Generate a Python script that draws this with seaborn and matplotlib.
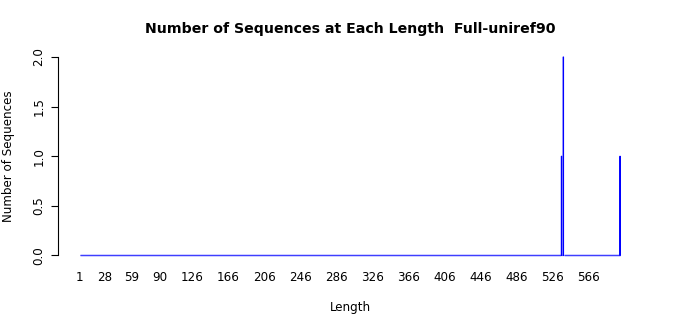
import numpy as np
import pandas as pd
import matplotlib
matplotlib.use("Agg")
import matplotlib.pyplot as plt
import seaborn as sns

# data
lengths = [536, 538, 601]
counts = [1, 2, 1]
min_length = 1
max_length = 601
tick_labels = [1, 28, 59, 90, 126, 166, 206, 246, 286, 326, 366, 406, 446, 486, 526, 566]
y_ticks = [0.0, 0.5, 1.0, 1.5, 2.0]

# full table of every length (zeros where no sequence)
table = pd.Series(counts, index=lengths).reindex(range(min_length, max_length + 1), fill_value=0)
df = pd.DataFrame({"Length": table.index, "Count": table.values})

sns.set_theme(style="white")
plt.rcParams["font.family"] = ["DejaVu Sans"]
plt.rcParams["text.color"] = "black"
plt.rcParams["axes.labelcolor"] = "black"
plt.rcParams["xtick.color"] = "black"
plt.rcParams["ytick.color"] = "black"

fig = plt.figure(figsize=(7, 3.15), dpi=100)
ax = fig.add_axes([58 / 700, 52 / 315, 584 / 700, 214 / 315])

# pass 1: wide bars -> the empty (zero-height) lengths form a solid baseline
sns.barplot(data=df, x="Length", y="Count", native_scale=True, color="#0000FF",
            saturation=1, edgecolor="#0000FF", linewidth=1.0, width=1.0, ax=ax)
n_first = len(ax.patches)
for p in ax.patches:
    if p.get_height() != 0:
        p.set_visible(False)

# pass 2: thin bars for lengths that have sequences
sns.barplot(data=df, x="Length", y="Count", native_scale=True, color="#0000FF",
            saturation=1, edgecolor="#0000FF", linewidth=0.75, width=0.5, ax=ax)
for p in ax.patches[n_first:]:
    p.set_snap(False)
    if p.get_height() == 0:
        p.set_visible(False)

ax.set_xlim(-23.4, 625.4)
ax.set_ylim(-0.0757, 2.08)

ax.set_xticks(tick_labels)
ax.set_xticklabels([str(t) for t in tick_labels])
ax.tick_params(axis="x", length=0, pad=6, labelsize=8.6, labelcolor="black")
ax.set_yticks(y_ticks)
ax.set_yticklabels([f"{t:.1f}" for t in y_ticks])
ax.tick_params(axis="y", length=5, width=0.8, color="black", direction="out", pad=4,
               left=True, labelsize=8.6, labelrotation=90, labelcolor="black")
for lab in ax.get_yticklabels():
    lab.set_va("center")

for s in ["top", "right", "bottom"]:
    ax.spines[s].set_visible(False)
ax.spines["left"].set_bounds(0, 2)
ax.spines["left"].set_color("black")
ax.spines["left"].set_linewidth(0.8)

ax.set_xlabel("Length", fontsize=8.6, va="center")
ax.xaxis.set_label_coords(0.5, (263 - 307) / 214)
ax.set_ylabel("Number of Sequences", fontsize=8.6, va="center")
ax.yaxis.set_label_coords((9 - 58) / 584, 0.5)
ax.set_title("Number of Sequences at Each Length  Full-uniref90", fontsize=10.2,
             fontweight="bold", pad=11.5, color="black")
ax.grid(False)

fig.savefig("out.png", dpi=100)
